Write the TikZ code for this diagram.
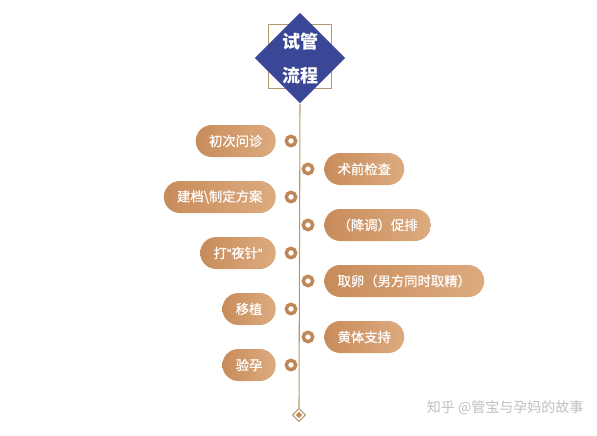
\documentclass[tikz,border=0pt]{standalone}
\usepackage{fontspec}
\setmainfont{Noto Sans CJK SC}
\newfontfamily\pillfont[FakeBold=0.7]{Noto Sans CJK SC}
\newfontfamily\latinq[FakeBold=0.7]{Liberation Sans}
\usetikzlibrary{shapes.geometric}
\usetikzlibrary{positioning}
\definecolor{titleblue}{HTML}{3A4696}
\definecolor{stemtan}{HTML}{B4986C}
\definecolor{pilldark}{HTML}{C88C5B}
\definecolor{pilllight}{HTML}{DDAB7F}
\definecolor{dotbrown}{HTML}{C08858}
\tikzset{pill/.style = {rounded corners = 12, minimum height = 24, inner xsep = 10,
                        left color = pilldark, right color = pilllight,
                        text = white, font = \fontsize{10}{12}\pillfont}}
\tikzset{dot/.style = {circle, draw = dotbrown, line width = 2.6, fill = white,
                       inner sep = 0, minimum size = 7}}
\tikzset{ttl/.style = {text = white, font = \fontsize{13.5}{16}\selectfont\bfseries}}

\begin{document}
\begin{tikzpicture}[x = 0.75pt, y = -0.75pt]
    \useasboundingbox (0, 0) rectangle (597, 436);

    % title block
    \draw [stemtan, line width = 0.6] (268, 24) rectangle (331, 88);
    \node [diamond, fill = titleblue, minimum width = 68, minimum height = 68, inner sep = 0] (title) at (300, 58) {};
    \node [ttl] (t1) at (300, 42) {试管};
    \node [ttl] (t2) at (300, 76) {流程};

    % stem and end mark
    \node [diamond, draw = stemtan, fill = white, line width = 0.8, minimum size = 10, inner sep = 0] (end) at (299, 415) {};
    \node [diamond, fill = dotbrown, minimum size = 5, inner sep = 0] at (end) {};
    \draw [stemtan, line width = 0.8] (title.south) -- (end.north);

    % left steps
    \node [dot] (d1) at (291, 141) {};
    \node [pill, anchor = east] (s1) at (276, 141) {初次问诊};
    \node [dot] (d3) at (291, 197) {};
    \node [pill, anchor = east] (s3) at (276, 197) {建档\textbackslash 制定方案};
    \node [dot] (d5) at (291, 253) {};
    \node [pill, anchor = east] (s5) at (276, 253) {打{\latinq “}夜针{\latinq ”}};
    \node [dot] (d7) at (291, 309) {};
    \node [pill, anchor = east] (s7) at (276, 309) {移植};
    \node [dot] (d9) at (291, 365) {};
    \node [pill, anchor = east] (s9) at (276, 365) {验孕};

    % right steps
    \node [dot] (d2) at (308, 169) {};
    \node [pill, anchor = west] (s2) at (324, 169) {术前检查};
    \node [dot] (d4) at (308, 225) {};
    \node [pill, anchor = west] (s4) at (324, 225) {（降调）促排};
    \node [dot] (d6) at (308, 281) {};
    \node [pill, anchor = west] (s6) at (324, 281) {取卵（男方同时取精）};
    \node [dot] (d8) at (308, 337) {};
    \node [pill, anchor = west] (s8) at (324, 337) {黄体支持};

    \node [text = black!25, font = \fontsize{10.5}{12}\selectfont, anchor = east] (mark) at (588, 408) {知乎 @管宝与孕妈的故事};
  \end{tikzpicture}
\end{document}
